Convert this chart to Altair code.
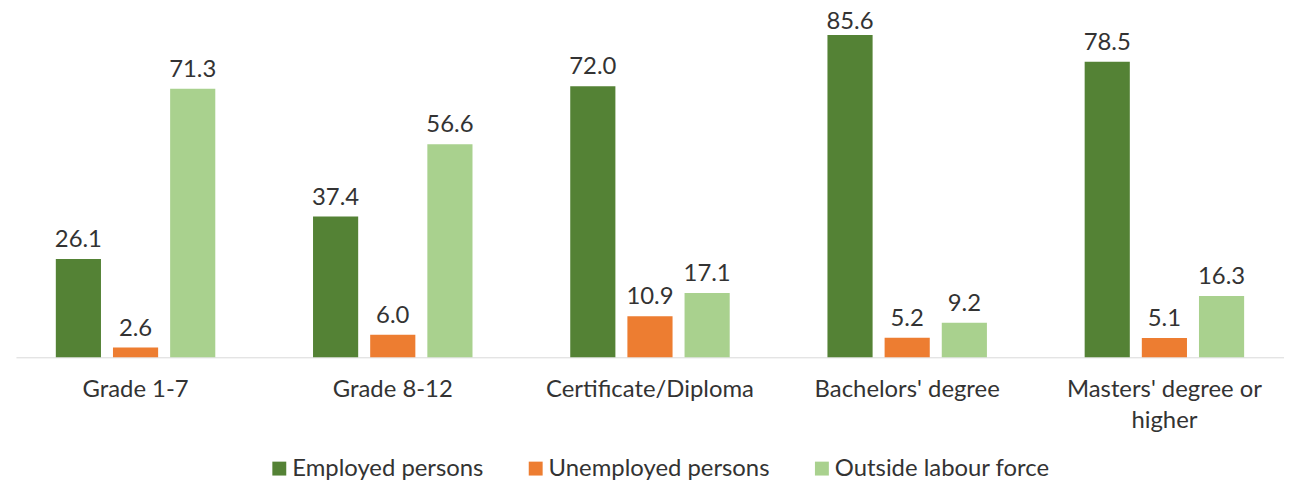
import altair as alt
import pandas as pd

categories = ["Grade 1-7", "Grade 8-12", "Certificate/Diploma", "Bachelors' degree", "Masters' degree or higher"]
series = ["Employed persons", "Unemployed persons", "Outside labour force"]
employed = [26.1, 37.4, 72.0, 85.6, 78.5]
unemployed = [2.6, 6.0, 10.9, 5.2, 5.1]
outside = [71.3, 56.6, 17.1, 9.2, 16.3]
colors = ["#548235", "#ED7D31", "#A9D18E"]

rows = []
for i, c in enumerate(categories):
    for s, vals in zip(series, [employed, unemployed, outside]):
        rows.append({"category": c, "series": s, "value": vals[i]})
df = pd.DataFrame(rows)

FONT = "Lato"
TXT = "#333333"

label_expr = "indexof(datum.label, 'or higher') > 0 ? [replace(datum.label, ' higher', ''), 'higher'] : datum.label"

x_enc = alt.X(
    "category:N", sort=categories,
    scale=alt.Scale(paddingInner=0.38, paddingOuter=0.155),
    axis=alt.Axis(title=None, domain=True, domainColor="#D9D9D9", domainWidth=1,
                  ticks=False, grid=False, labelAngle=0, labelFontSize=24, labelFont=FONT,
                  labelColor=TXT, labelPadding=20, labelLineHeight=32, labelLimit=0,
                  labelExpr=label_expr),
)
xoff_enc = alt.XOffset("series:N", sort=series, scale=alt.Scale(paddingInner=0.21, paddingOuter=0))
y_scale = alt.Scale(domain=[0, 90])

bars = alt.Chart(df).mark_bar().encode(
    x=x_enc,
    xOffset=xoff_enc,
    y=alt.Y("value:Q", scale=y_scale, axis=None),
    color=alt.Color(
        "series:N", sort=series,
        scale=alt.Scale(domain=series, range=colors),
        legend=alt.Legend(title=None, orient="none", legendX=253, legendY=441, direction="horizontal",
                          symbolType="square", symbolSize=196, symbolStrokeWidth=0,
                          labelFontSize=24, labelFont=FONT, labelColor=TXT, labelLimit=0,
                          columnPadding=40, labelOffset=1),
    ),
)

labels = alt.Chart(df).transform_calculate(
    label_y="min(datum.value, 84.0)"
).mark_text(dy=-12, baseline="alphabetic", fontSize=24, font=FONT, color=TXT).encode(
    x=x_enc,
    xOffset=xoff_enc,
    y=alt.Y("label_y:Q", scale=y_scale, axis=None),
    text=alt.Text("value:Q", format=".1f"),
)

chart = (bars + labels).properties(
    width=1276, height=341,
    padding={"left": 8, "top": 9, "right": 0, "bottom": 122},
    autosize=alt.AutoSizeParams(type="none"),
).configure_view(stroke=None)

chart.save("out.html", embed_options={"renderer": "svg", "actions": False})
